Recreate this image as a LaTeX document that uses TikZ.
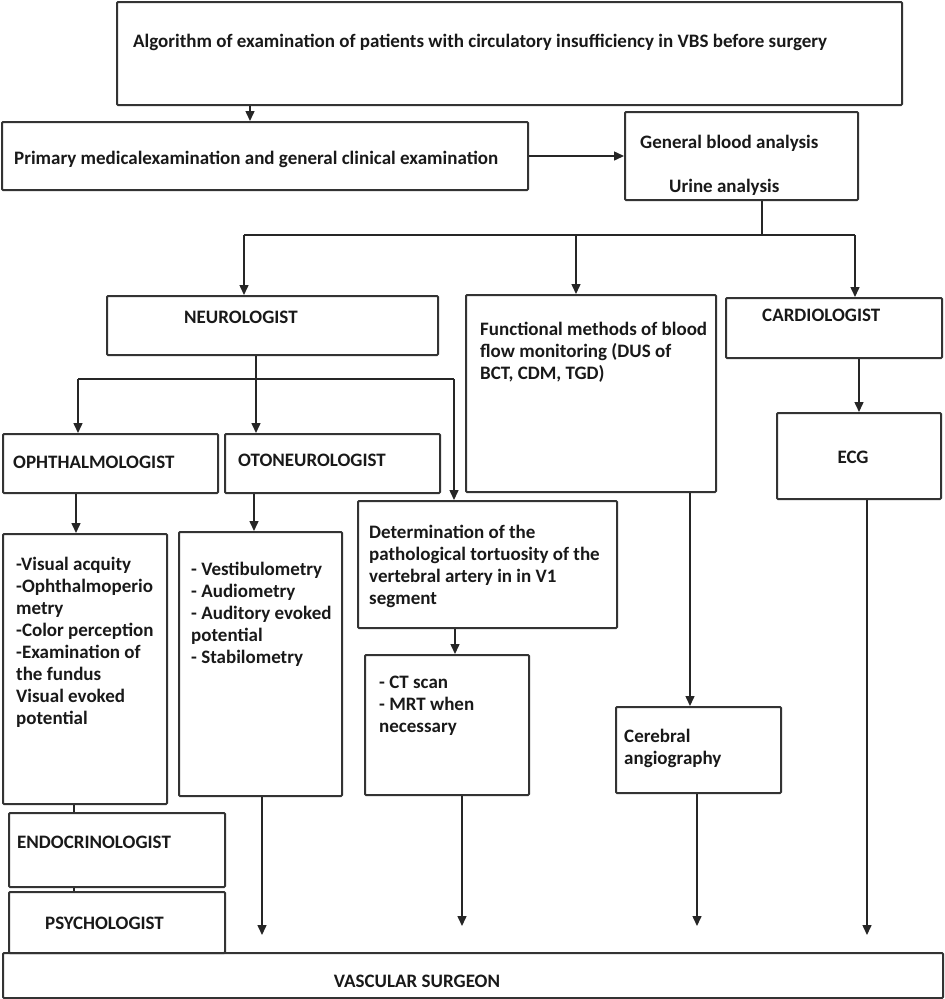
\documentclass[tikz,border=0pt]{standalone}
\usepackage{fontspec}
\setmainfont{Carlito}
\usetikzlibrary{arrows.meta,fit}

\tikzset{
  box/.style={draw=black!80, line width=2pt, rounded corners=1pt, inner sep=0pt, fit={#1}},
  lbl/.style={font=\fontsize{19}{22}\selectfont\bfseries, text=black!90, inner sep=0pt, anchor=west},
  lst/.style={lbl, anchor=north west, align=left},
  ln/.style={draw=black!85, line width=1.5pt},
  arr/.style={ln, -{Triangle[length=10pt,width=9pt]}}
}

\begin{document}
\begin{tikzpicture}[x=1pt, y=-1pt]
\useasboundingbox (0,0) rectangle (945,999);

% boxes and texts
\node[box={(117,2)(902,105)}] (algo) {};
\node[lbl] at (133,42) {Algorithm of examination of patients with circulatory insufficiency in VBS before surgery};
\node[box={(2,122)(528,190)}] (prim) {};
\node[lbl] at (14,159) {Primary medicalexamination and general clinical examination};
\node[box={(625,112)(858,200)}] (blood) {};
\node[lbl] at (640,143) {General blood analysis};
\node[lbl] at (669,187) {Urine analysis};

\node[box={(107,296)(438,355)}] (neuro) {};
\node[lbl] at (184,317) {NEUROLOGIST};
\node[box={(466,295)(716,492)}] (func) {};
\node[lst] at (480,322) {Functional methods of blood\\flow monitoring (DUS of\\BCT, CDM, TGD)};
\node[box={(726,298)(942,358)}] (cardio) {};
\node[lbl] at (762,315) {CARDIOLOGIST};

\node[box={(3,434)(218,493)}] (ophth) {};
\node[lbl] at (13,462) {OPHTHALMOLOGIST};
\node[box={(225,434)(440,493)}] (oto) {};
\node[lbl] at (238,460) {OTONEUROLOGIST};
\node[box={(777,413)(941,499)}] (ecg) {};
\node[lbl, anchor=center] at (853,457) {ECG};

\node[box={(3,534)(167,804)}] (ophthl) {};
\node[lst] at (16,557) {-Visual acquity\\-Ophthalmoperio\\metry\\-Color perception\\-Examination of\\the fundus\\Visual evoked\\potential};
\node[box={(179,532)(342,796)}] (otol) {};
\node[lst] at (191,562) {- Vestibulometry\\- Audiometry\\- Auditory evoked\\potential\\- Stabilometry};
\node[box={(358,501)(617,628)}] (determ) {};
\node[lst] at (369,525) {Determination of the\\pathological tortuosity of the\\vertebral artery in in V1\\segment};
\node[box={(365,655)(529,795)}] (ct) {};
\node[lst] at (379,676) {- CT scan\\- MRT when\\necessary};
\node[box={(616,707)(781,793)}] (angio) {};
\node[lst] at (624,729) {Cerebral\\angiography};

\node[box={(9,813)(225,887)}] (endo) {};
\node[lbl] at (17,842) {ENDOCRINOLOGIST};
\node[box={(9,892)(225,953)}] (psych) {};
\node[lbl] at (45,923) {PSYCHOLOGIST};
\node[box={(3,953)(943,998)}] (vasc) {};
\node[lbl, anchor=center] at (417,981) {VASCULAR SURGEON};

% columns of the connectors
\coordinate (ka) at (250,0);
\coordinate (kb) at (762,235);
\coordinate (kn) at (244,0);
\coordinate (kf) at (576,0);
\coordinate (kc) at (855,0);
\coordinate (ko) at (256,0);
\coordinate (kl) at (78,379);
\coordinate (kr) at (454,379);
\coordinate (kp) at (76,0);
\coordinate (kq) at (254,0);
\coordinate (ke) at (859,0);
\coordinate (kd) at (455,0);
\coordinate (kg) at (690,0);
\coordinate (ks) at (74,0);
\coordinate (kv) at (262,0);
\coordinate (kw) at (462,0);
\coordinate (kx) at (697,0);
\coordinate (ky) at (867,0);

% connectors
\draw[arr] (algo.south -| ka) -- (prim.north -| ka);
\draw[arr] (prim.east) -- (blood.west);
\draw[ln] (blood.south -| kb) -- (kb);
\draw[ln] (kn |- kb) -- (kc |- kb);
\draw[arr] (kn |- kb) -- (neuro.north -| kn);
\draw[arr] (kf |- kb) -- (func.north -| kf);
\draw[arr] (kc |- kb) -- (cardio.north -| kc);

\draw[arr] (neuro.south -| ko) -- (oto.north -| ko);
\draw[ln] (kl) -- (kr);
\draw[arr] (kl) -- (ophth.north -| kl);
\draw[arr] (kr) -- (determ.north -| kr);
\draw[arr] (cardio.south -| ke) -- (ecg.north -| ke);

\draw[arr] (ophth.south -| kp) -- (ophthl.north -| kp);
\draw[arr] (oto.south -| kq) -- (otol.north -| kq);
\draw[arr] (determ.south -| kd) -- (ct.north -| kd);
\draw[arr] (func.south -| kg) -- (angio.north -| kg);

\draw[ln] (ophthl.south -| ks) -- (endo.north -| ks);
\draw[ln] (endo.south -| ks) -- (psych.north -| ks);

\draw[arr, shorten >=17pt] (otol.south -| kv) -- (vasc.north -| kv);
\draw[arr, shorten >=26pt] (ct.south -| kw) -- (vasc.north -| kw);
\draw[arr, shorten >=26pt] (angio.south -| kx) -- (vasc.north -| kx);
\draw[arr, shorten >=17pt] (ecg.south -| ky) -- (vasc.north -| ky);
\end{tikzpicture}
\end{document}
